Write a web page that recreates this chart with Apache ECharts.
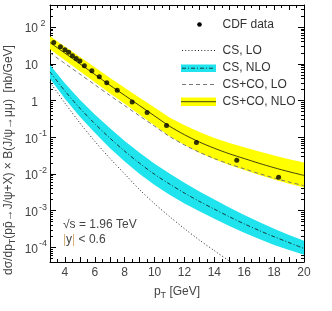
<!DOCTYPE html>
<html><head><meta charset="utf-8">
<script src="https://cdn.jsdelivr.net/npm/echarts@6/dist/echarts.min.js"></script>
<style>html,body{margin:0;padding:0;background:#fff}#c{width:332px;height:311px}</style>
</head><body><div id="c"></div>
<script>
// ---------- data ----------
const ptGrid = [3,4,5,6,7,8,9,10,11,12,13,14,15,16,17,18,19,20];
// CS+CO, NLO (yellow band + solid line)
const csCoNloCenter = [38.0,19.5,10.0,5.13,2.63,1.38,0.724,0.380,0.200,0.117,0.0741,0.0501,0.0355,0.0263,0.0195,0.0148,0.0115,0.00912];
const csCoNloUpper  = [56.2,29.5,15.5,8.04,4.17,2.24,1.20,0.646,0.347,0.211,0.138,0.0955,0.0700,0.0537,0.0407,0.0316,0.0251,0.0204];
const csCoNloLower  = [25.1,12.6,6.31,3.16,1.58,0.813,0.412,0.209,0.107,0.0617,0.0380,0.0251,0.0176,0.0129,0.00944,0.00708,0.00543,0.00427];
// CS+CO, LO (dashed)
const csCoLo = [20.0,10.2,5.25,2.69,1.38,0.724,0.380,0.200,0.105,0.0617,0.0389,0.0263,0.0186,0.0138,0.0102,0.00776,0.00603,0.00479];
// CS, NLO (cyan band + dash-dot line)
const csNloCenter = [6.03,1.82,0.617,0.234,0.0955,0.0417,0.0195,0.00977,0.00531,0.00302,0.00179,0.00110,6.84e-4,4.37e-4,2.88e-4,1.95e-4,1.35e-4,9.33e-5];
const csNloUpper  = [9.33,2.95,1.05,0.417,0.178,0.0794,0.0380,0.0191,0.01035,0.00575,0.00333,0.00200,0.00122,7.59e-4,4.90e-4,3.24e-4,2.19e-4,1.51e-4];
const csNloLower  = [3.89,1.12,0.363,0.132,0.0513,0.0219,0.0100,0.00501,0.00272,0.00158,9.59e-4,6.03e-4,3.85e-4,2.51e-4,1.70e-4,1.17e-4,8.51e-5,6.31e-5];
// CS, LO (dotted)
const csLoPt = [3,4,5,6,7,8,9,10,11,12,13,14,15,16,17];
const csLo   = [3.16,0.851,0.245,0.0776,0.0269,0.0100,0.00372,0.00155,6.92e-4,3.24e-4,1.58e-4,8.13e-5,4.27e-5,2.34e-5,1.35e-5];
// CDF data
const cdfPt  = [3.25,3.7,4.0,4.25,4.5,4.75,5.0,5.3,5.8,6.3,6.8,7.5,8.5,9.5,10.8,12.8,15.5,18.3];
const cdfVal = [38.3,29.0,24.1,20.5,16.5,14.0,11.9,8.83,6.45,4.42,3.04,1.92,0.916,0.474,0.210,0.0722,0.0238,0.00818];
// ticks
const xTickLabels = [4,6,8,10,12,14,16,18,20];
const yMin = 4e-5, yMax = 400;
const legendNames = ['CDF data','CS, LO','CS, NLO','CS+CO, LO','CS+CO, NLO'];

// ---------- helpers ----------
const FONT = "'Liberation Sans', Arial, sans-serif";
const pairs = (xs, ys) => xs.map((x, i) => [x, ys[i]]);
function band(upper, lower, color) {
  return {
    type: 'custom', coordinateSystem: 'cartesian2d', xAxisIndex: 0, yAxisIndex: 0,
    silent: true, z: 1, animation: false,
    data: [[ptGrid[0], upper[0]]],
    renderItem: function (params, api) {
      const pts = [];
      for (let i = 0; i < ptGrid.length; i++) pts.push(api.coord([ptGrid[i], upper[i]]));
      for (let i = ptGrid.length - 1; i >= 0; i--) pts.push(api.coord([ptGrid[i], lower[i]]));
      return { type: 'polygon', shape: { points: pts }, style: { fill: color, stroke: null } };
    }
  };
}
function line(xs, ys, style) {
  return { type: 'line', data: pairs(xs, ys), showSymbol: false, smooth: 0.3, silent: true, z: 3,
           lineStyle: style, animation: false, clip: true };
}
const lmin = Math.log10(yMin), lmax = Math.log10(yMax);
const minorY = [];
for (let n = -5; n <= 2; n++) for (let k = 2; k <= 9; k++) {
  const v = Math.log10(k) + n; if (v > lmin && v < lmax) minorY.push(v);
}
const CYAN = '#1fe4ee', YELLOW = '#ffff00';
const axisLineStyle = { onZero: false, lineStyle: { color: '#000', width: 1 } };

const xAxisBase = {
  type: 'value', min: 3, max: 20, interval: 1,
  axisLine: axisLineStyle,
  axisTick: { inside: true, length: 5, lineStyle: { color: '#000' } },
  minorTick: { show: true, splitNumber: 2, length: 3, lineStyle: { color: '#000' } },
  splitLine: { show: false }, minorSplitLine: { show: false }
};
const yLogBase = {
  type: 'log', logBase: 10, min: yMin, max: yMax,
  axisLine: axisLineStyle,
  axisTick: { inside: true, length: 6, lineStyle: { color: '#000' } },
  splitLine: { show: false }
};
const yMinorBase = {
  type: 'value', min: lmin, max: lmax,
  axisLine: { show: false, onZero: false }, axisLabel: { show: false }, splitLine: { show: false },
  axisTick: { show: true, inside: true, length: 3, customValues: minorY, lineStyle: { color: '#000' } }
};
const txt = (id, x, y, s, extra) => Object.assign({ type: 'text', id: id, x: x, y: y, silent: true, z: 10,
  style: Object.assign({ text: s, font: '12px ' + FONT, fill: '#333', verticalAlign: 'middle', align: 'left' }, extra || {}) });

const option = {
  animation: false,
  grid: { left: 50, right: 28, top: 5, bottom: 49, containLabel: false },
  xAxis: [
    Object.assign({}, xAxisBase, {
      position: 'bottom',
      axisLabel: { margin: 5, fontSize: 12, color: '#444', fontFamily: FONT,
        formatter: v => xTickLabels.indexOf(v) >= 0 ? String(v) : '' },
      name: '{t|p}{sub|T}{t| [GeV]}', nameLocation: 'middle', nameGap: 24,
      nameTextStyle: { fontFamily: FONT, color: '#444', rich: {
        t: { fontSize: 12, fontFamily: FONT, color: '#444', lineHeight: 14, verticalAlign: 'top' },
        sub: { fontSize: 9, fontFamily: FONT, color: '#444', lineHeight: 10, verticalAlign: 'bottom', padding: [6, 0, 0, 0] } } }
    }),
    Object.assign({}, xAxisBase, { position: 'top', axisLabel: { show: false } })
  ],
  yAxis: [
    Object.assign({}, yLogBase, {
      position: 'left',
      axisLabel: { margin: 2, showMinLabel: false, showMaxLabel: false, fontFamily: FONT,
        formatter: function (v) {
          const lv = Math.log10(v), e = Math.round(lv);
          if (Math.abs(lv - e) > 1e-6) return '';
          if (e === 0) return '{b|1}{s| }';
          if (e === 1) return '{b|10}{s| }';
          return '{b|10}{s|' + e + '}';
        },
        rich: {
          b: { fontSize: 12, fontFamily: FONT, color: '#444', verticalAlign: 'bottom' },
          s: { fontSize: 9, fontFamily: FONT, color: '#444', width: 10, align: 'left', verticalAlign: 'bottom', padding: [0, 0, 7, 0] }
        } }
    }),
    Object.assign({}, yMinorBase, { position: 'left' }),
    Object.assign({}, yLogBase, { position: 'right', axisLabel: { show: false } }),
    Object.assign({}, yMinorBase, { position: 'right' })
  ],
  series: [
    band(csNloUpper, csNloLower, CYAN),
    band(csCoNloUpper, csCoNloLower, YELLOW),
    line(csLoPt, csLo, { color: '#222', width: 1, type: [1, 2.2] }),
    line(ptGrid, csNloCenter, { color: '#111', width: 0.8, type: [4, 2, 1, 2] }),
    line(ptGrid, csCoLo, { color: '#777', width: 1, type: [4, 3] }),
    line(ptGrid, csCoNloCenter, { color: '#111', width: 0.8 }),
    { type: 'scatter', data: pairs(cdfPt, cdfVal), symbol: 'circle', symbolSize: 5,
      itemStyle: { color: '#000' }, z: 5, silent: true, animation: false }
  ],
  graphic: { elements: [
    { type: 'text', id: 'ytitle', x: 10, y: 160, rotation: Math.PI / 2, silent: true,
      style: { text: '{t|dσ/dp}{sub|T}{t|(pp\u0304→J/ψ+X) × B(J/ψ→μμ)  [nb/GeV]}',
        align: 'center', verticalAlign: 'middle', fill: '#444', font: '12px ' + FONT,
        rich: {
          t: { fontSize: 12, fontFamily: FONT, fill: '#444', lineHeight: 14, verticalAlign: 'top' },
          sub: { fontSize: 9, fontFamily: FONT, fill: '#444', lineHeight: 10, verticalAlign: 'bottom', padding: [6, 0, 0, 0] }
        } } },
    { type: 'circle', id: 'lg0', shape: { cx: 199.5, cy: 24.5, r: 2.3 }, style: { fill: '#000' }, silent: true, z: 10 },
    txt('lt0', 222.5, 24.5, legendNames[0]),
    { type: 'line', id: 'lg1', shape: { x1: 182, y1: 50.5, x2: 215, y2: 50.5 }, style: { stroke: '#222', lineWidth: 1, lineDash: [1, 2.2] }, silent: true, z: 10 },
    txt('lt1', 222.5, 50.5, legendNames[1]),
    { type: 'rect', id: 'lg2r', shape: { x: 181, y: 64.5, width: 35, height: 7.5 }, style: { fill: CYAN }, silent: true, z: 10 },
    { type: 'line', id: 'lg2l', shape: { x1: 182, y1: 68.2, x2: 215, y2: 68.2 }, style: { stroke: '#111', lineWidth: 0.8, lineDash: [4, 2, 1, 2] }, silent: true, z: 11 },
    txt('lt2', 222.5, 68, legendNames[2]),
    { type: 'line', id: 'lg3', shape: { x1: 182, y1: 84.5, x2: 215, y2: 84.5 }, style: { stroke: '#777', lineWidth: 1, lineDash: [4, 3] }, silent: true, z: 10 },
    txt('lt3', 222.5, 84.5, legendNames[3]),
    { type: 'rect', id: 'lg4r', shape: { x: 181, y: 97.5, width: 35, height: 8.5 }, style: { fill: YELLOW }, silent: true, z: 10 },
    { type: 'line', id: 'lg4l', shape: { x1: 181, y1: 101.7, x2: 216, y2: 101.7 }, style: { stroke: '#111', lineWidth: 0.8 }, silent: true, z: 11 },
    txt('lt4', 222.5, 101.5, legendNames[4]),
    txt('ann1', 63, 225, '√s = 1.96 TeV', { fill: '#444' }),
    txt('ann2', 63, 240, '{b||}y{b||} < 0.6', { fill: '#444', rich: { b: { fontSize: 12, fontFamily: FONT, fill: '#d4aa74' } } })
  ] }
};
const chart = echarts.init(document.getElementById('c'), null, { renderer: 'canvas' });
chart.setOption(option);
</script></body></html>
